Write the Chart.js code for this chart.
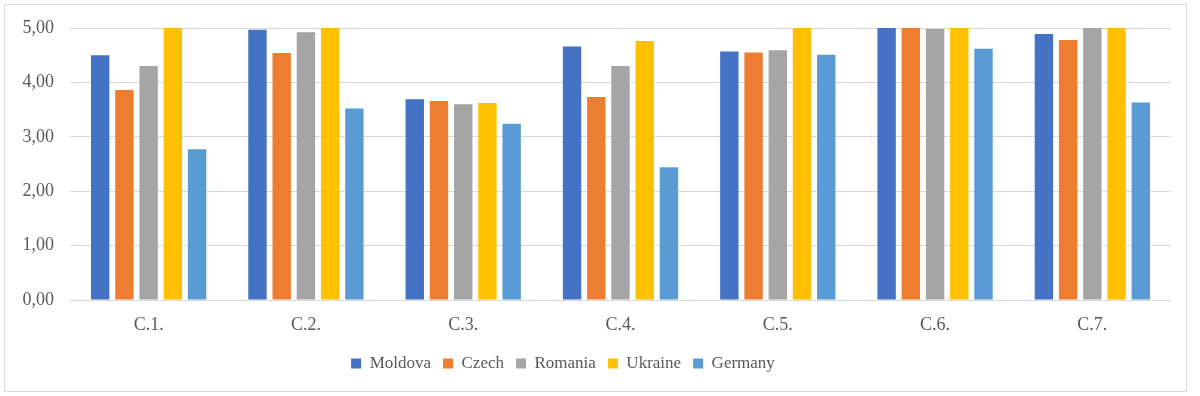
<!DOCTYPE html>
<html>
<head>
<meta charset="utf-8">
<script src="https://cdn.jsdelivr.net/npm/chart.js@4.4.1/dist/chart.umd.min.js"></script>
<style>
  html, body { margin: 0; padding: 0; background: #fff; }
  #box {
    position: absolute; left: 4px; top: 4px;
    width: 1183px; height: 388px;
    box-sizing: border-box; border: 1px solid #d9d9d9;
  }
  canvas { display: block; }
</style>
</head>
<body>
<div id="box"><canvas id="chart" width="1181" height="386"></canvas></div>
<script>
const categories = ['C.1.', 'C.2.', 'C.3.', 'C.4.', 'C.5.', 'C.6.', 'C.7.'];
const moldova  = [4.50, 4.97, 3.69, 4.66, 4.57, 5.00, 4.89];
const czech    = [3.86, 4.54, 3.66, 3.73, 4.55, 5.00, 4.78];
const romania  = [4.30, 4.92, 3.60, 4.30, 4.59, 4.98, 5.00];
const ukraine  = [5.00, 5.00, 3.62, 4.76, 5.00, 5.00, 5.00];
const germany  = [2.77, 3.52, 3.24, 2.44, 4.51, 4.62, 3.63];
const yTicks   = [0, 1, 2, 3, 4, 5];

const SERIF = '"Liberation Serif", "Times New Roman", serif';
const AXIS_FONT = { family: SERIF, size: 18 };
const LEGEND_FONT = { family: SERIF, size: 17 };
const TEXT = '#595959';

function ds(label, data, color) {
    return { label, data, backgroundColor: color, borderWidth: 0,
             categoryPercentage: 0.77, barPercentage: 0.76 };
}

// legend in the original sits a bit left of centre
const legendShift = {
    id: 'legendShift',
    afterLayout(chart) {
        if (!chart.legend) return;
        chart.legend.left -= 25;
        chart.legend.right -= 25;
    }
};

new Chart(document.getElementById('chart'), {
    type: 'bar',
    data: {
        labels: categories,
        datasets: [
            ds('Moldova', moldova, '#4472C4'),
            ds('Czech', czech, '#ED7D31'),
            ds('Romania', romania, '#A5A5A5'),
            ds('Ukraine', ukraine, '#FFC000'),
            ds('Germany', germany, '#5B9BD5')
        ]
    },
    plugins: [legendShift],
    options: {
        responsive: false,
        animation: false,
        layout: { padding: { left: 0, right: 15, top: 23, bottom: 9 } },
        plugins: {
            tooltip: { enabled: false },
            legend: {
                position: 'bottom',
                labels: { font: LEGEND_FONT, color: TEXT, boxWidth: 10, boxHeight: 10, padding: 12 }
            }
        },
        scales: {
            x: {
                grid: { display: false, drawTicks: false },
                border: { display: false },
                ticks: { font: AXIS_FONT, color: TEXT, padding: 14 },
                afterFit: s => { s.height = 43; }
            },
            y: {
                min: 0, max: 5,
                afterBuildTicks: s => { s.ticks = yTicks.map(v => ({ value: v })); },
                grid: { color: '#d9d9d9', lineWidth: 1, drawTicks: false },
                border: { display: false },
                ticks: {
                    font: AXIS_FONT, color: TEXT, padding: 16,
                    callback: v => Number(v).toFixed(2).replace('.', ',')
                },
                afterFit: s => { s.width = 65; s.paddingTop = 0; s.paddingBottom = 0; }
            }
        }
    }
});
</script>
</body>
</html>
